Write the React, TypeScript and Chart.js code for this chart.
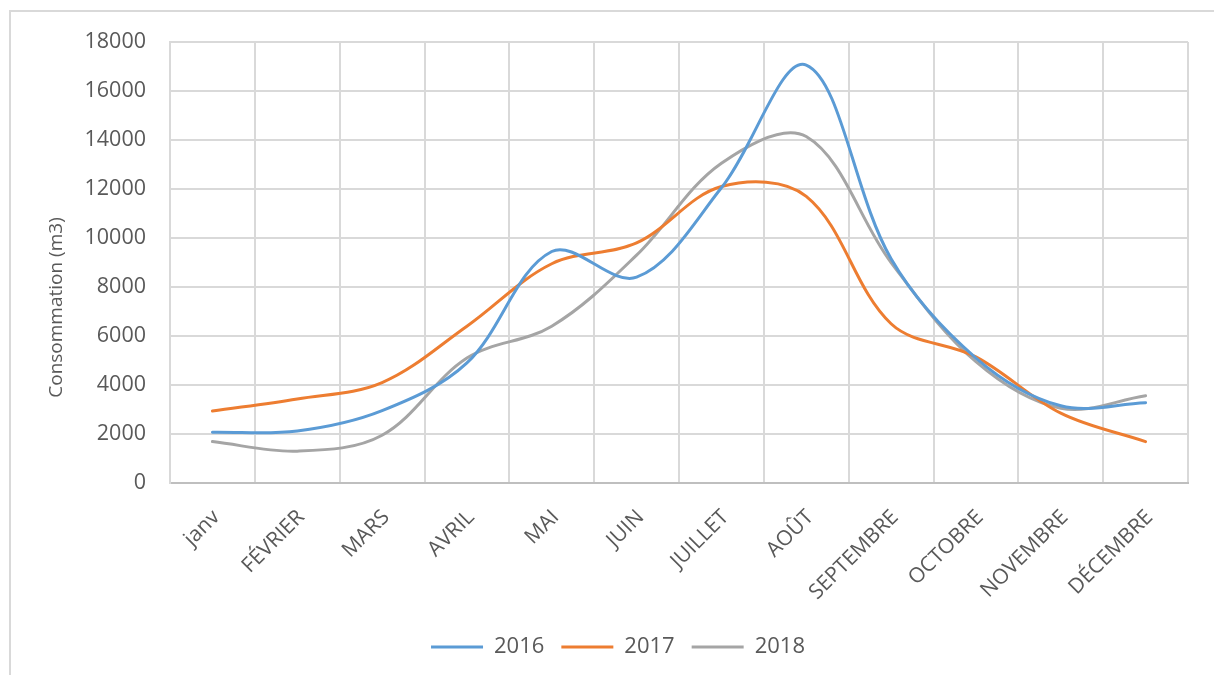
import React, { useEffect, useRef } from "react";
import { Chart, registerables } from "chart.js";

Chart.register(...registerables);

const categories = ["janv", "FÉVRIER", "MARS", "AVRIL", "MAI", "JUIN", "JUILLET", "AOÛT", "SEPTEMBRE", "OCTOBRE", "NOVEMBRE", "DÉCEMBRE"];
const series2016 = [2070, 2120, 2950, 4900, 9450, 8400, 12050, 17060, 9150, 5100, 3150, 3280];
const series2017 = [2940, 3430, 4100, 6400, 8950, 9800, 12100, 11700, 6500, 5150, 2850, 1690];
const series2018 = [1690, 1300, 1950, 5100, 6400, 9300, 13050, 14140, 9000, 4950, 3050, 3560];
const seriesNames = ["2016", "2017", "2018"];
const yAxisTitle = "Consommation (m3)";

const FONT = "'Open Sans', 'DejaVu Sans', sans-serif";
const TEXT = "#595959";
const GRID = "#d9d9d9";

const yTitlePlugin = {
  id: "yTitlePlugin",
  afterDraw(chart: any) {
    const ctx = chart.ctx;
    const area = chart.chartArea;
    ctx.save();
    ctx.translate(57, area.top + (area.bottom - area.top) / 2 + 45);
    ctx.rotate(-Math.PI / 2);
    ctx.fillStyle = TEXT;
    ctx.font = `19px ${FONT}`;
    ctx.textAlign = "center";
    ctx.textBaseline = "middle";
    ctx.fillText(yAxisTitle, 0, 0);
    ctx.restore();
  },
};

export default function App() {
  const ref = useRef<HTMLCanvasElement | null>(null);

  useEffect(() => {
    if (!ref.current) return;
    const colors = ["#5B9BD5", "#ED7D31", "#A5A5A5"];
    const data = [series2016, series2017, series2018];
    const chart = new Chart(ref.current, {
      type: "line",
      data: {
        labels: categories,
        datasets: data.map((d, i) => ({
          label: seriesNames[i],
          data: d,
          borderColor: colors[i],
          backgroundColor: colors[i],
          borderWidth: 3,
          borderCapStyle: "round" as const,
          pointRadius: 0,
          pointHoverRadius: 0,
          tension: 0.35,
          fill: false,
        })),
      },
      plugins: [yTitlePlugin],
      options: {
        animation: false,
        responsive: false,
        maintainAspectRatio: false,
        layout: { padding: { top: 42, right: 26, left: 48, bottom: 7 } },
        plugins: {
          tooltip: { enabled: false },
          legend: {
            position: "bottom",
            labels: {
              boxWidth: 52,
              boxHeight: 3,
              padding: 17,
              color: TEXT,
              font: { family: FONT, size: 22 },
              generateLabels: (c: any) =>
                c.data.datasets.map((ds: any, i: number) => ({
                  text: ds.label,
                  fillStyle: ds.borderColor,
                  strokeStyle: ds.borderColor,
                  lineWidth: 0,
                  fontColor: TEXT,
                  hidden: false,
                  datasetIndex: i,
                })),
            },
          },
        },
        scales: {
          x: {
            offset: true,
            grid: { offset: true, color: GRID, lineWidth: 2, drawTicks: false },
            border: { color: "#bfbfbf", width: 2 },
            ticks: {
              color: TEXT,
              font: { family: FONT, size: 21 },
              maxRotation: 45,
              minRotation: 45,
              padding: 22,
              labelOffset: 4,
              autoSkip: false,
            },
            afterFit: (s: any) => {
              s.height = 136;
            },
          },
          y: {
            min: 0,
            max: 18000,
            grid: { color: GRID, lineWidth: 2, drawTicks: false },
            border: { color: GRID, width: 2 },
            ticks: {
              stepSize: 2000,
              color: TEXT,
              font: { family: FONT, size: 21.5 },
              padding: 24,
              callback: (v: any) => String(v),
            },
            afterFit: (s: any) => {
              s.width = 122;
            },
          },
        },
      },
    });
    return () => chart.destroy();
  }, []);

  return (
    <div style={{ position: "fixed", left: 0, top: 0, width: 1214, height: 675, overflow: "hidden", background: "#fff" }}>
      <div style={{ position: "absolute", left: 9, top: 10, width: 1250, height: 700, border: "2px solid #d9d9d9", boxSizing: "border-box" }} />
      <canvas ref={ref} width={1214} height={675} style={{ position: "absolute", left: 0, top: 0, width: 1214, height: 675 }} />
    </div>
  );
}
